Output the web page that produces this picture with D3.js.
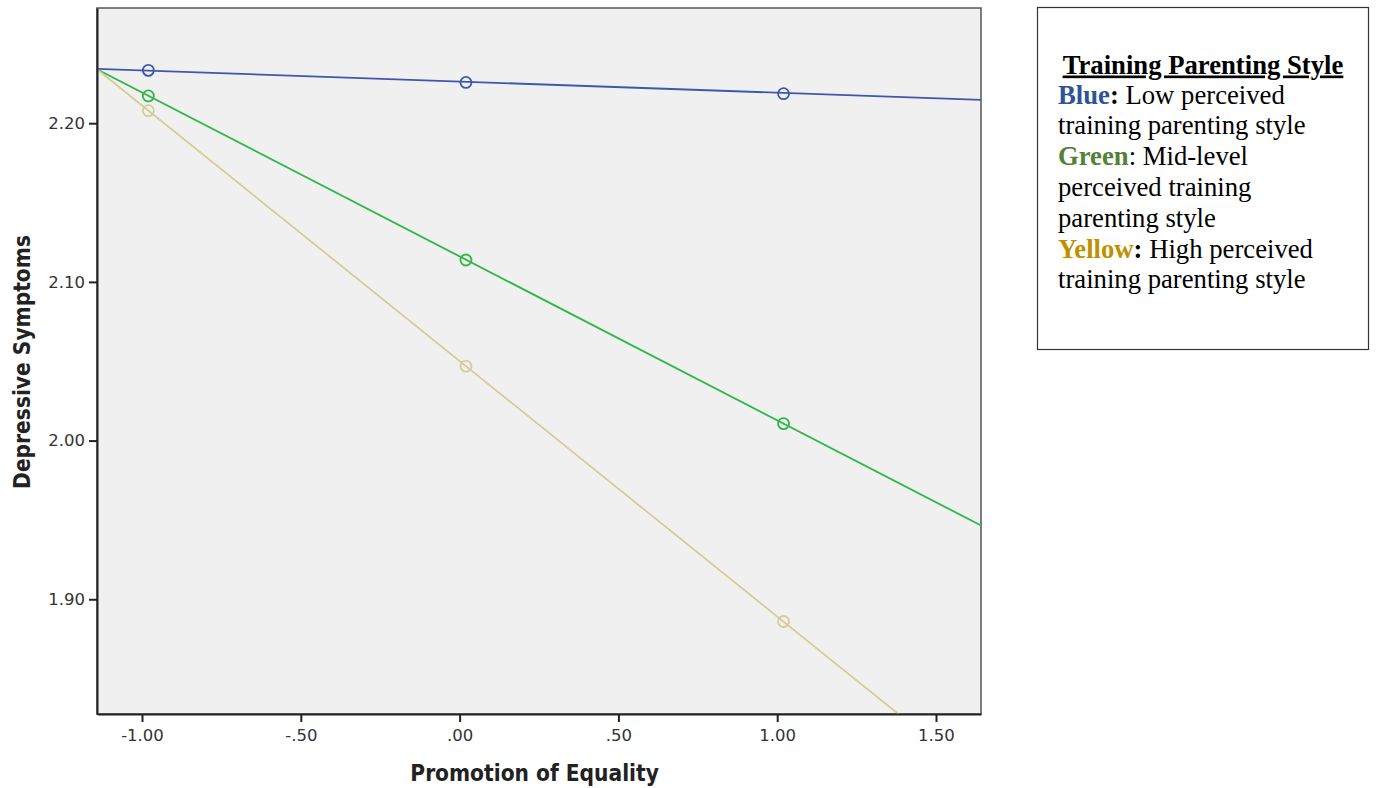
<!DOCTYPE html>
<html>
<head>
<meta charset="utf-8">
<script src="https://cdn.jsdelivr.net/npm/d3@7"></script>
<style>
  body { margin: 0; background: #fff; }
  svg { display: block; }
</style>
</head>
<body>
<svg id="chart" width="1376" height="788"></svg>
<script>
// values
const groups = ["Low", "Mid", "High"];
const lineColors = ["#3e58ac", "#2eb848", "#d3ce97"];
const pointX = [-0.98, 0.02, 1.02];
const lowValues = [2.2333, 2.2257, 2.2186];
const midValues = [2.2172, 2.1138, 2.0107];
const highValues = [2.2079, 2.0469, 1.8860];
// fit line ends at the left and right edge of the plot
const fitLeft = [2.2343, 2.2340, 2.2340];
const fitRight = [2.2147, 1.9465, 1.7858];
const xTicks = [-1.0, -0.5, 0, 0.5, 1.0, 1.5];
const yTicks = [1.9, 2.0, 2.1, 2.2];
const xDomain = [-1.1417, 1.6417];
const yDomain = [1.8277, 2.2726];

const legendTitle = "Training Parenting Style";
const legendLines = [
    [{t: "Blue", c: "#2f5496", b: true}, {t: ": ", c: "#000", b: true}, {t: "Low perceived"}],
    [{t: "training parenting style"}],
    [{t: "Green", c: "#538135", b: true}, {t: ": Mid-level"}],
    [{t: "perceived training"}],
    [{t: "parenting style"}],
    [{t: "Yellow", c: "#bf9000", b: true}, {t: ": ", c: "#000", b: true}, {t: "High perceived"}],
    [{t: "training parenting style"}]
];

const svg = d3.select("#chart"),
    margin = {top: 8, right: 395, bottom: 74, left: 97},
    width = 1376 - margin.left - margin.right,
    height = 788 - margin.top - margin.bottom,
    g = svg.append("g").attr("transform", "translate(" + margin.left + "," + margin.top + ")");

const x = d3.scaleLinear().domain(xDomain).range([0, width]);
const y = d3.scaleLinear().domain(yDomain).range([height, 0]);

// plot background
g.append("rect")
    .attr("width", width)
    .attr("height", height)
    .attr("fill", "#f0f0f0")
    .attr("stroke", "#555")
    .attr("stroke-width", 1.5);

g.append("clipPath").attr("id", "plotclip")
    .append("rect").attr("width", width).attr("height", height);

const series = [lowValues, midValues, highValues];
const plot = g.append("g").attr("clip-path", "url(#plotclip)");

series.forEach((vals, i) => {
    plot.append("line")
        .attr("x1", x(xDomain[0])).attr("y1", y(fitLeft[i]))
        .attr("x2", x(xDomain[1])).attr("y2", y(fitRight[i]))
        .attr("stroke", lineColors[i])
        .attr("stroke-width", 1.8);
    plot.selectAll(".pt" + i)
        .data(vals)
        .enter().append("circle")
        .attr("class", "pt" + i)
        .attr("cx", (d, j) => x(pointX[j]))
        .attr("cy", d => y(d))
        .attr("r", 5.5)
        .attr("fill", "none")
        .attr("stroke", lineColors[i])
        .attr("stroke-width", 1.8);
});

// axes (SPSS style: no leading zero)
const fmt = d => (d < 0 ? "-" : "") + d3.format(".2f")(Math.abs(d)).replace(/^0\./, ".");
const xAxis = g.append("g")
    .attr("transform", "translate(0," + height + ")")
    .call(d3.axisBottom(x).tickValues(xTicks).tickFormat(fmt).tickSize(8).tickSizeOuter(0).tickPadding(7));
const yAxis = g.append("g")
    .call(d3.axisLeft(y).tickValues(yTicks).tickFormat(fmt).tickSize(8).tickSizeOuter(0).tickPadding(4));

[xAxis, yAxis].forEach(a => {
    a.select(".domain").attr("stroke", "#222").attr("stroke-width", 2);
    a.selectAll(".tick line").attr("stroke", "#222").attr("stroke-width", 2);
    a.selectAll(".tick text")
        .attr("fill", "#333")
        .style("font-family", "'DejaVu Sans', sans-serif")
        .style("font-size", "16.5px");
});

// axis titles
svg.append("text")
    .attr("x", margin.left + x(0) + 75)
    .attr("y", 781)
    .attr("text-anchor", "middle")
    .style("font-family", "'DejaVu Sans Condensed', 'DejaVu Sans', sans-serif")
    .style("font-weight", "bold")
    .style("font-size", "22.5px")
    .attr("fill", "#222")
    .text("Promotion of Equality");

svg.append("text")
    .attr("transform", "translate(30," + 362 + ") rotate(-90)")
    .attr("text-anchor", "middle")
    .style("font-family", "'DejaVu Sans Condensed', 'DejaVu Sans', sans-serif")
    .style("font-weight", "bold")
    .style("font-size", "22.5px")
    .attr("fill", "#222")
    .text("Depressive Symptoms");

// legend box
const lg = svg.append("g").attr("transform", "translate(1037,7)");
lg.append("rect")
    .attr("x", 0.5).attr("y", 0.5)
    .attr("width", 331).attr("height", 342)
    .attr("fill", "#fff")
    .attr("stroke", "#333")
    .attr("stroke-width", 1.2);

const serif = "'Liberation Serif', 'Times New Roman', serif";
lg.append("text")
    .attr("x", 166)
    .attr("y", 66.5)
    .attr("text-anchor", "middle")
    .style("font-family", serif)
    .style("font-weight", "bold")
    .style("font-size", "26.7px")
    .style("text-decoration", "underline")
    .text(legendTitle);

legendLines.forEach((parts, i) => {
    const t = lg.append("text")
        .attr("x", 21)
        .attr("y", 96.5 + i * 30.8)
        .style("font-family", serif)
        .style("font-size", "26.7px");
    parts.forEach(p => {
        t.append("tspan")
            .attr("fill", p.c || "#000")
            .style("font-weight", p.b ? "bold" : "normal")
            .text(p.t);
    });
});
</script>
</body>
</html>
